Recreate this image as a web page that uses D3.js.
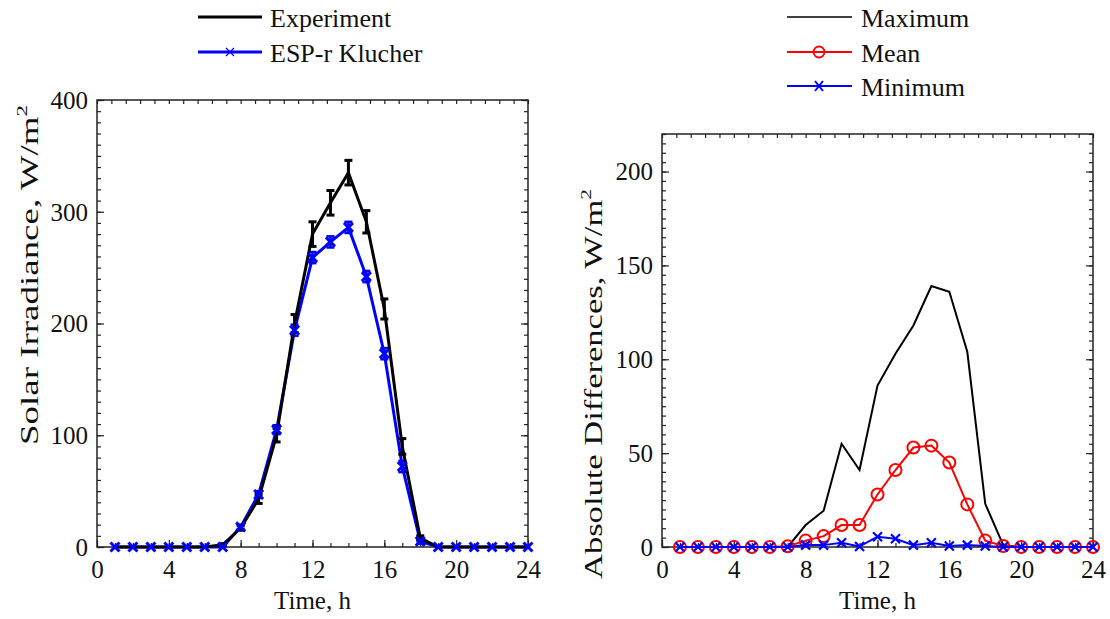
<!DOCTYPE html>
<html><head><meta charset="utf-8">
<script src="https://cdn.jsdelivr.net/npm/d3@7"></script>
<style>
html,body{margin:0;padding:0;background:#fff;}
svg{display:block;font-family:"Liberation Serif","Times New Roman",serif;}
</style></head>
<body><svg id="c" width="1110" height="619"></svg>
<script>
// ---- data ----
const hours = [1,2,3,4,5,6,7,8,9,10,11,12,13,14,15,16,17,18,19,20,21,22,23,24];
const experiment    = [0,0,0,0,0,0,2,17,43,100,200,280,308,335,291,213,90,8,0,0,0,0,0,0];
const experimentErr = [0,0,0,0,0,0,1,2,4,6,8,11,11,11,10,9,7,2,0,0,0,0,0,0];
const klucher       = [0,0,0,0,0,0,0,18,47,105,194,259,273,286,242,173,72,5,0,0,0,0,0,0];
const klucherErr    = [0,0,0,0,0,0,0,2,3,4,5,5,5,5,5,5,5,2,0,0,0,0,0,0];
const maxDiff  = [0,0,0,0,0,0,0,11.7,19.3,55,41,86,103,118,139,136,104,23,1,0,0,0,0,0];
const meanDiff = [0,0,0,0,0,0,0.4,3.4,5.8,11.7,11.7,28,41,53,54,45,22.7,3.4,0.5,0,0,0,0,0];
const minDiff  = [0,0,0,0,0,0,0,1,1,2.3,0.3,5.5,4.4,1,2.3,0.5,1,0.5,0,0,0,0,0,0];
const xTicks = [0,4,8,12,16,20,24];
const yTicksL = [0,100,200,300,400];
const yTicksR = [0,50,100,150,200];
const legendL = ["Experiment","ESP-r Klucher"];
const legendR = ["Maximum","Mean","Minimum"];

const svg = d3.select("#c");
const FS = 25;

function panel(x, y, majX, minX, topMinor, majY, minY, yTitle, titleX, titleY, titleLen){
  const g = svg.append("g");
  const [x0,x1] = x.range(), [y0,y1] = y.range();
  // bottom axis
  const bMin = g.append("g").attr("transform",`translate(0,${y0})`)
    .call(d3.axisBottom(x).tickValues(minX).tickSize(-4).tickFormat(""));
  const bMaj = g.append("g").attr("transform",`translate(0,${y0})`)
    .call(d3.axisBottom(x).tickValues(majX).tickSize(-7).tickPadding(13).tickFormat(d3.format("d")));
  const tMin = g.append("g").attr("transform",`translate(0,${y1})`)
    .call(d3.axisTop(x).tickValues(topMinor).tickSize(-4).tickFormat(""));
  const lMin = g.append("g").attr("transform",`translate(${x0},0)`)
    .call(d3.axisLeft(y).tickValues(minY).tickSize(-4).tickFormat(""));
  const lMaj = g.append("g").attr("transform",`translate(${x0},0)`)
    .call(d3.axisLeft(y).tickValues(majY).tickSize(-7).tickPadding(9).tickFormat(d3.format("d")));
  const rMin = g.append("g").attr("transform",`translate(${x1},0)`)
    .call(d3.axisRight(y).tickValues(minY).tickSize(-4).tickFormat(""));
  const rMaj = g.append("g").attr("transform",`translate(${x1},0)`)
    .call(d3.axisRight(y).tickValues(majY).tickSize(-7).tickFormat(""));
  g.selectAll(".domain").remove();
  g.selectAll(".tick line").attr("stroke","#222").attr("stroke-width",1.2);
  g.selectAll(".tick text").attr("font-family","Liberation Serif").attr("font-size",FS).attr("fill","#111");
  lMaj.selectAll(".tick text").attr("dy","0.33em");
  bMaj.selectAll(".tick text").attr("dy","0.71em");
  // frame
  g.append("rect").attr("x",x0).attr("y",y1).attr("width",x1-x0).attr("height",y0-y1)
    .attr("fill","none").attr("stroke","#222").attr("stroke-width",1.5);
  // titles
  g.append("text").attr("x",(x0+x1)/2).attr("y",609).attr("text-anchor","middle")
    .attr("font-size",FS).attr("fill","#111").text("Time, h");
  const t = g.append("text").attr("transform",`translate(${titleX},${titleY}) rotate(-90)`)
    .attr("text-anchor","middle").attr("font-size",FS).attr("fill","#111")
    .attr("textLength",titleLen).attr("lengthAdjust","spacingAndGlyphs");
  t.append("tspan").text(yTitle);
  t.append("tspan").attr("font-size",FS*0.62).attr("dy",-11).text("2");
  return g;
}

const minorHours = d3.range(0,25,1);
const topMinor = d3.range(0,24.01,0.8);

// ---------- left panel ----------
const xL = d3.scaleLinear([0,24],[97,528]);
const yL = d3.scaleLinear([0,400],[547,100]);
const gL = panel(xL,yL,xTicks,minorHours,topMinor,yTicksL,d3.range(0,401,10),
  "Solar Irradiance, W/m",38,275,340);

const line = (xs,ys)=>d3.line().x((d,i)=>xs(hours[i])).y(d=>ys(d));
const kBlue = "#0000ff";
// klucher line
gL.append("path").datum(klucher).attr("d",line(xL,yL)).attr("fill","none")
  .attr("stroke",kBlue).attr("stroke-width",3);
// klucher error bars
function errBars(g,vals,errs,xs,ys,color,w,cap){
  const e = g.append("g").attr("stroke",color).attr("stroke-width",w);
  vals.forEach((v,i)=>{
    if(!errs[i]) return;
    const cx = xs(hours[i]);
    e.append("line").attr("x1",cx).attr("x2",cx).attr("y1",ys(v-errs[i])).attr("y2",ys(v+errs[i]));
    e.append("line").attr("x1",cx-cap).attr("x2",cx+cap).attr("y1",ys(v-errs[i])).attr("y2",ys(v-errs[i]));
    e.append("line").attr("x1",cx-cap).attr("x2",cx+cap).attr("y1",ys(v+errs[i])).attr("y2",ys(v+errs[i]));
  });
}
errBars(gL,klucher,klucherErr,xL,yL,kBlue,2.5,4);
// experiment
gL.append("path").datum(experiment).attr("d",line(xL,yL)).attr("fill","none")
  .attr("stroke","#000").attr("stroke-width",3);
errBars(gL,experiment,experimentErr,xL,yL,"#000",3,4);
// klucher markers
function xMarks(g,vals,xs,ys,color,s,w){
  const m = g.append("g").attr("stroke",color).attr("stroke-width",w);
  vals.forEach((v,i)=>{
    const cx=xs(hours[i]), cy=ys(v);
    m.append("path").attr("d",`M${cx-s},${cy-s}L${cx+s},${cy+s}M${cx-s},${cy+s}L${cx+s},${cy-s}`);
  });
}
xMarks(gL,klucher,xL,yL,kBlue,4.5,3);

// left legend
const lg = svg.append("g").attr("font-size",26).attr("fill","#111");
lg.append("line").attr("x1",198).attr("x2",262).attr("y1",17).attr("y2",17).attr("stroke","#000").attr("stroke-width",3);
lg.append("text").attr("x",270).attr("y",27).text(legendL[0]);
lg.append("line").attr("x1",198).attr("x2",262).attr("y1",52).attr("y2",52).attr("stroke",kBlue).attr("stroke-width",3);
lg.append("path").attr("d","M226,48L234,56M226,56L234,48").attr("stroke",kBlue).attr("stroke-width",1.2);
lg.append("text").attr("x",270).attr("y",62).text(legendL[1]);

// ---------- right panel ----------
const xR = d3.scaleLinear([0,24],[662,1093]);
const yR = d3.scaleLinear([0,220],[547,134]);
const gR = panel(xR,yR,xTicks,minorHours,topMinor,yTicksR,d3.range(0,221,5),
  "Absolute Differences, W/m",602,384,390);

gR.append("path").datum(maxDiff).attr("d",line(xR,yR)).attr("fill","none")
  .attr("stroke","#000").attr("stroke-width",2);
gR.append("path").datum(meanDiff).attr("d",line(xR,yR)).attr("fill","none")
  .attr("stroke","#ff0000").attr("stroke-width",2);
gR.append("g").selectAll("circle").data(meanDiff).join("circle")
  .attr("cx",(d,i)=>xR(hours[i])).attr("cy",d=>yR(d)).attr("r",6)
  .attr("fill","none").attr("stroke","#ff0000").attr("stroke-width",2);
gR.append("path").datum(minDiff).attr("d",line(xR,yR)).attr("fill","none")
  .attr("stroke",kBlue).attr("stroke-width",2);
xMarks(gR,minDiff,xR,yR,kBlue,4.5,2.2);

// right legend
const rg = svg.append("g").attr("font-size",26).attr("fill","#111");
const ly = [17,52,86];
rg.append("line").attr("x1",787).attr("x2",852).attr("y1",ly[0]).attr("y2",ly[0]).attr("stroke","#000").attr("stroke-width",1.5);
rg.append("line").attr("x1",787).attr("x2",852).attr("y1",ly[1]).attr("y2",ly[1]).attr("stroke","#ff0000").attr("stroke-width",1.8);
rg.append("circle").attr("cx",819).attr("cy",ly[1]).attr("r",5.5).attr("fill","none").attr("stroke","#ff0000").attr("stroke-width",1.8);
rg.append("line").attr("x1",787).attr("x2",852).attr("y1",ly[2]).attr("y2",ly[2]).attr("stroke",kBlue).attr("stroke-width",1.8);
rg.append("path").attr("d",`M815,${ly[2]-5}L823,${ly[2]+5}M815,${ly[2]+5}L823,${ly[2]-5}`).attr("stroke",kBlue).attr("stroke-width",2);
legendR.forEach((t,i)=>rg.append("text").attr("x",861).attr("y",ly[i]+10).text(t));
</script></body></html>
